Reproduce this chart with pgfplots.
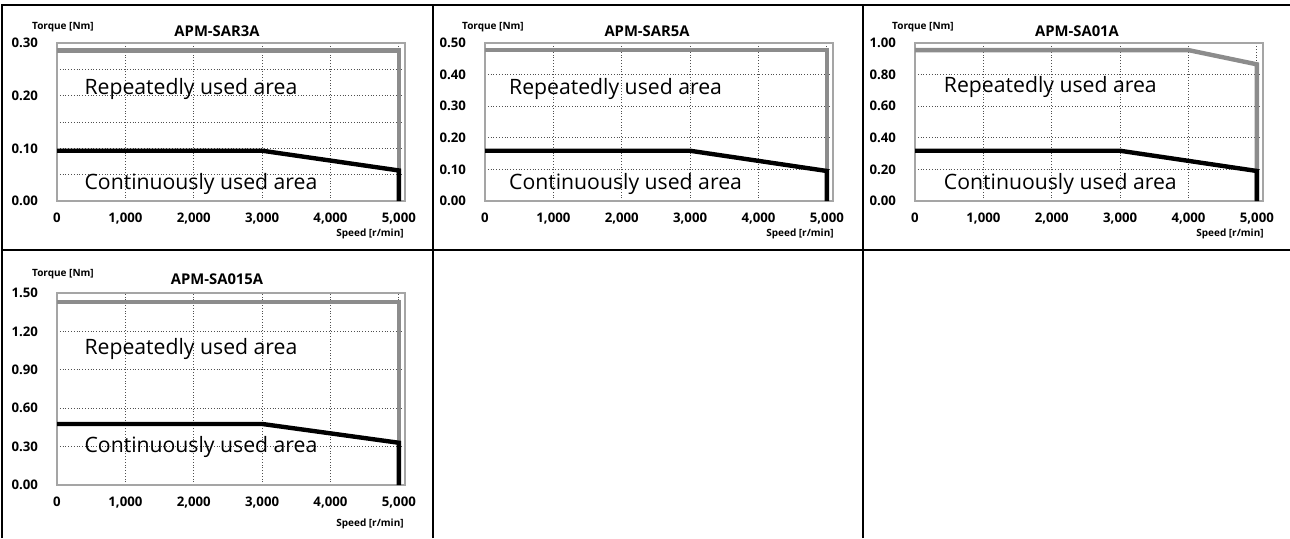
\documentclass[border=0pt]{standalone}
\usepackage{pgfplots}
\pgfplotsset{compat=1.18}
\usepackage{fontspec}
\setmainfont{Open Sans}

\definecolor{maxc}{RGB}{140,140,140}
\definecolor{gridc}{RGB}{80,80,80}
\definecolor{framec}{RGB}{165,165,165}

\pgfplotsset{
  torque/.style={
    scale only axis, width=174pt,
    xmin=0, xmax=5090, ymin=0,
    xtick={0,1000,2000,3000,4000,5000},
    xticklabels={0,{1,000},{2,000},{3,000},{4,000},{5,000}},
    grid=both,
    major grid style={gridc, densely dotted, line width=0.4pt},
    minor grid style={gridc, densely dotted, line width=0.4pt},
    major tick length=0pt, minor tick length=0pt,
    /pgf/number format/assume math mode=true,
    tick label style={font=\fontsize{6.6}{7}\selectfont\bfseries},
    yticklabel style={/pgf/number format/fixed, /pgf/number format/fixed zerofill,
      /pgf/number format/precision=2, xshift=-6pt},
    xticklabel style={yshift=-2.5pt},
    axis line style={framec, line width=0.6pt},
  },
}
\tikzset{
  maxline/.style={maxc, line width=2.2pt, line join=miter},
  ratedline/.style={black, line width=2.2pt, line join=miter},
  area/.style={anchor=west, font=\fontsize{10.6}{12}\selectfont},
}

\begin{document}
\begin{tikzpicture}[x=0.5pt, y=0.5pt]
\useasboundingbox (0,0) rectangle (1290,538);

% table lines
\draw[line width=1pt] (2,0) -- (2,533) -- (1290,533);
\draw[line width=1pt] (433,0) -- (433,533);
\draw[line width=1pt] (863,0) -- (863,533);
\draw[line width=1pt] (2,288) -- (1290,288);

% APM-SAR3A
\begin{axis}[torque, at={(28.5pt,168.5pt)}, anchor=south west, height=79pt,
  ymax=0.30, ytick={0,0.1,0.2,0.3}, minor ytick={0.05,0.15,0.25}]
\addplot[maxline] coordinates {(0,0.286) (5000,0.286) (5000,0)};
\addplot[ratedline] coordinates {(0,0.0955) (3000,0.0955) (5000,0.058) (5000,0)};
\node[area] at (axis cs:300,0.212) {Repeatedly used area};
\node[area] at (axis cs:300,0.032) {Continuously used area};
\end{axis}

% APM-SAR5A
\begin{axis}[torque, at={(242.5pt,168.5pt)}, anchor=south west, height=79pt,
  ymax=0.50, ytick={0,0.1,0.2,0.3,0.4,0.5}]
\addplot[maxline] coordinates {(0,0.477) (5000,0.477) (5000,0)};
\addplot[ratedline] coordinates {(0,0.159) (3000,0.159) (5000,0.095) (5000,0)};
\node[area] at (axis cs:250,0.355) {Repeatedly used area};
\node[area] at (axis cs:250,0.055) {Continuously used area};
\end{axis}

% APM-SA01A
\begin{axis}[torque, at={(457.5pt,168.5pt)}, anchor=south west, height=79pt,
  ymax=1.00, ytick={0,0.2,0.4,0.6,0.8,1.0}]
\addplot[maxline] coordinates {(0,0.955) (4000,0.955) (5000,0.865) (5000,0)};
\addplot[ratedline] coordinates {(0,0.318) (3000,0.318) (5000,0.19) (5000,0)};
\node[area] at (axis cs:320,0.72) {Repeatedly used area};
\node[area] at (axis cs:320,0.11) {Continuously used area};
\end{axis}

% APM-SA015A
\begin{axis}[torque, at={(28.5pt,26.5pt)}, anchor=south west, height=96pt,
  ymax=1.50, ytick={0,0.3,0.6,0.9,1.2,1.5}]
\addplot[maxline] coordinates {(0,1.43) (5000,1.43) (5000,0)};
\addplot[ratedline] coordinates {(0,0.477) (3000,0.477) (5000,0.33) (5000,0)};
\node[area] at (axis cs:300,1.065) {Repeatedly used area};
\node[area] at (axis cs:300,0.30) {Continuously used area};
\end{axis}

% titles and axis names
\begin{scope}[every node/.style={font=\fontsize{7.4}{8}\selectfont\bfseries}]
\node at (217,507) {APM-SAR3A};
\node at (647,507) {APM-SAR5A};
\node at (1077,507) {APM-SA01A};
\node at (217,259) {APM-SA015A};
\end{scope}
\begin{scope}[every node/.style={font=\fontsize{5}{6}\selectfont\bfseries}]
\node at (63,511) {Torque [Nm]};
\node at (493,511) {Torque [Nm]};
\node at (923,511) {Torque [Nm]};
\node at (63,264) {Torque [Nm]};
\node at (370,304) {Speed [r/min]};
\node at (800,304) {Speed [r/min]};
\node at (1230,304) {Speed [r/min]};
\node at (370,14) {Speed [r/min]};
\end{scope}
\end{tikzpicture}
\end{document}
